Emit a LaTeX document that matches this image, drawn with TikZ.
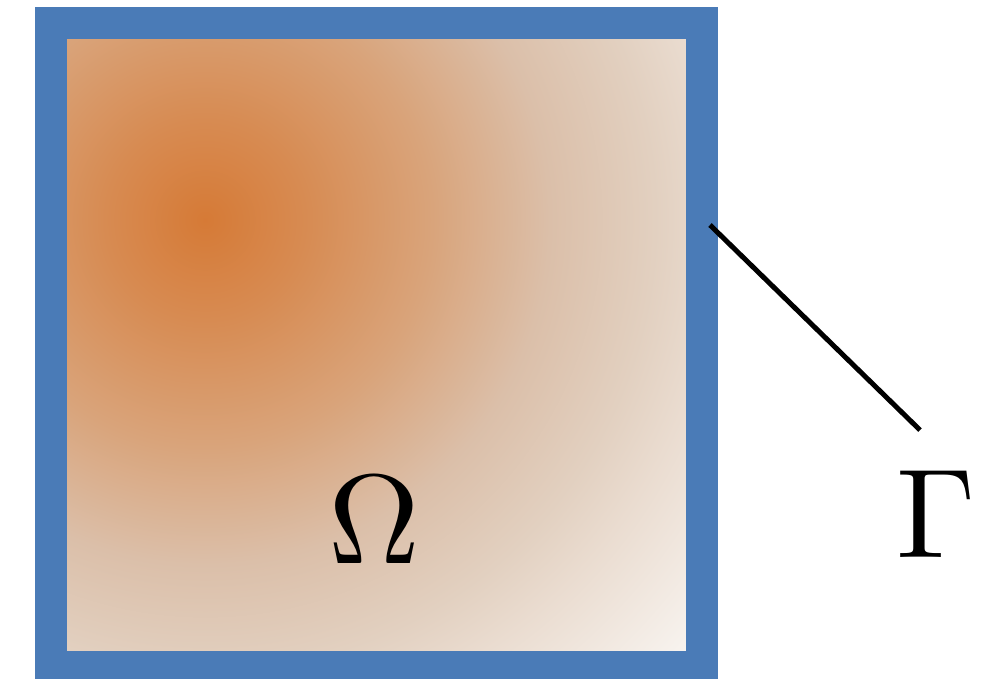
\documentclass[tikz,border=0pt]{standalone}
\usepackage{tikz}
\usetikzlibrary{positioning}
\definecolor{rimblue}{HTML}{4A7BB7}
\definecolor{heat0}{HTML}{D67A36}
\definecolor{heat1}{HTML}{D78B52}
\definecolor{heat2}{HTML}{D9A47B}
\definecolor{heat3}{HTML}{DBBFA9}
\definecolor{heat4}{HTML}{E2D0C0}
\definecolor{heat5}{HTML}{EADCD0}
\definecolor{heat6}{HTML}{F8F4F0}
\pgfdeclareradialshading{heatshade}{\pgfpointorigin}{color(0bp)=(heat0); color(3.85bp)=(heat1); color(8.75bp)=(heat2); color(13.25bp)=(heat3); color(17.3bp)=(heat4); color(19.75bp)=(heat5); color(25bp)=(heat6); color(50bp)=(heat6)}

\begin{document}
\begin{tikzpicture}[
        x=1pt, y=-1pt,
        rim/.style={draw=rimblue, line width=32pt},
        sym/.style={inner sep=0pt, scale=12.7},
        lead/.style={draw=black, line width=5pt}
    ]
    \useasboundingbox (0,0) rectangle (1004,679);
    % domain with its temperature field
    \begin{scope}
        \clip (67,40) rectangle (686,651);
        \shade[shading=heatshade] (205,220) circle (650);
    \end{scope}
    \draw[rim] (51,23.5) rectangle (702,667);

    \node[sym] (omega) at (374,520) {$\Omega$};
    \node[sym] (gamma) at (936,514) {$\Gamma$};

    \coordinate (edge) at (710,225);
    \draw[lead] (edge) -- ([xshift=-16pt, yshift=38pt]gamma.north);
\end{tikzpicture}
\end{document}
